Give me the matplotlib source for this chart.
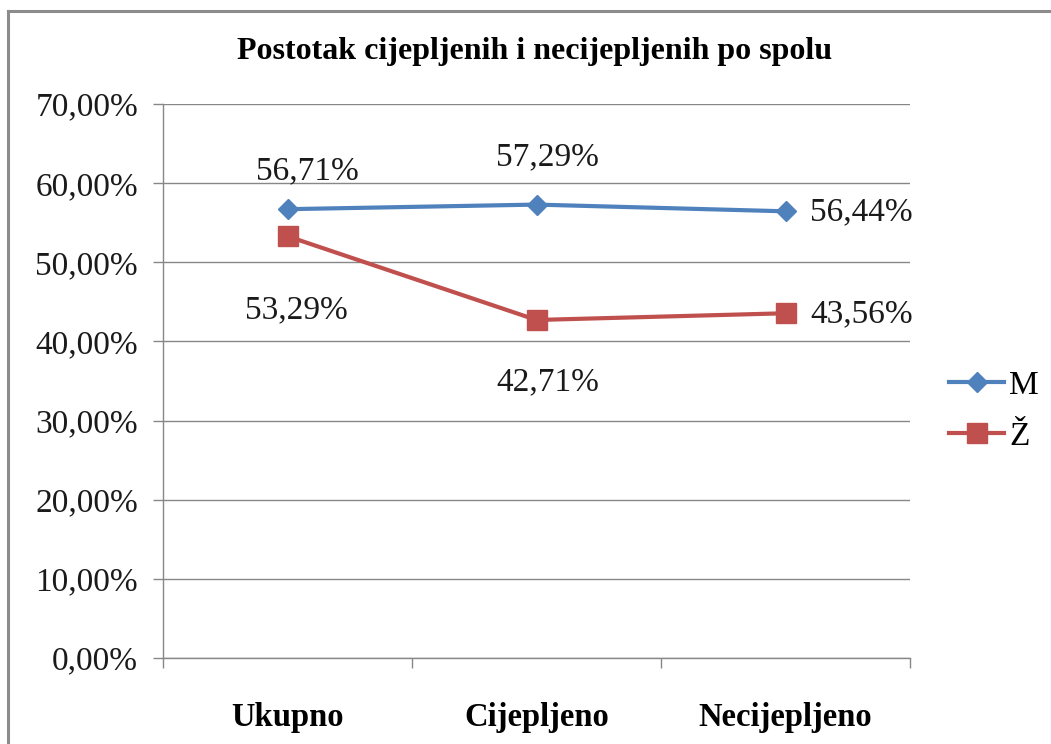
import numpy as np
import matplotlib.pyplot as plt
from matplotlib.lines import Line2D

plt.rcParams['font.family'] = ['Liberation Serif', 'DejaVu Serif']

# data
categories = ['Ukupno', 'Cijepljeno', 'Necijepljeno']
m_values = [56.71, 57.29, 56.44]
z_values = [53.29, 42.71, 43.56]
series_names = ['M', 'Ž']
y_ticks = [0, 10, 20, 30, 40, 50, 60, 70]

blue = '#4F81BD'
red = '#C0504D'
grid_col = '#878787'
txt_col = '#1a1a1a'

fig = plt.figure(figsize=(10.51, 7.44), dpi=100)
ax = fig.add_axes([163/1051, 1 - 658/744, (910 - 163)/1051, (658 - 104)/744])

x = np.arange(len(categories))
ax.plot(x, m_values, color=blue, lw=3, marker='D', ms=10, mec=blue, mfc=blue, zorder=3)
ax.plot(x, z_values, color=red, lw=3, marker='s', ms=14, mec=red, mfc=red, zorder=3)


def fmt(v):
    return f'{v:.2f}'.replace('.', ',') + '%'


# label offsets in pixels (dx, dy), relative to the point
m_off = [(20, 38, 'center'), (11, 48, 'center'), (25, -1, 'left')]
z_off = [(9, -74, 'center'), (11, -62, 'center'), (25, -1, 'left')]
for i, v in enumerate(m_values):
    dx, dy, ha = m_off[i]
    ax.annotate(fmt(v), (x[i], v), xytext=(dx, dy), textcoords='offset pixels',
                ha=ha, va='center', fontsize=24, color=txt_col)
for i, v in enumerate(z_values):
    dx, dy, ha = z_off[i]
    ax.annotate(fmt(v), (x[i], v), xytext=(dx, dy), textcoords='offset pixels',
                ha=ha, va='center', fontsize=24, color=txt_col)

ax.set_xlim(-0.5, len(categories) - 0.5)
ax.set_ylim(0, 70)
ax.set_yticks(y_ticks)
ax.set_yticklabels([fmt(t) for t in y_ticks], fontsize=24, color=txt_col)
ax.set_xticks(x)
ax.set_xticklabels(categories, fontsize=23.5, fontweight='bold')
ax.set_xticks(np.arange(len(categories) + 1) - 0.5, minor=True)
ax.tick_params(axis='x', which='major', length=0, pad=32)
ax.tick_params(axis='x', which='minor', length=7, color=grid_col, width=1, direction='out')
ax.tick_params(axis='y', length=7, color=grid_col, width=1, pad=11)

ax.grid(axis='y', color=grid_col, lw=1)
ax.set_axisbelow(True)
for s in ['top', 'right']:
    ax.spines[s].set_visible(False)
for s in ['left', 'bottom']:
    ax.spines[s].set_color(grid_col)
    ax.spines[s].set_linewidth(1)

fig.text(535/1051, 1 - 52/744, 'Postotak cijepljenih i necijepljenih po spolu',
         ha='center', va='center', fontsize=23, fontweight='bold')

handles = [Line2D([], [], color=blue, lw=3, marker='D', ms=10),
           Line2D([], [], color=red, lw=3, marker='s', ms=14)]
fig.legend(handles, series_names, loc='center left', bbox_to_anchor=(949/1051, 1 - 411/744),
           frameon=False, fontsize=24, handlelength=1.65, handletextpad=0.15,
           labelspacing=0.62, borderpad=0, borderaxespad=0)

# outer chart border (only top and left visible in the crop)
fig.add_artist(Line2D([8/1051, 8/1051], [0, 1 - 11/744], transform=fig.transFigure,
                      color='#8c8c8c', lw=2.2))
fig.add_artist(Line2D([8/1051, 1], [1 - 11/744, 1 - 11/744], transform=fig.transFigure,
                      color='#8c8c8c', lw=2.2))

fig.savefig('out.png', dpi=100)
